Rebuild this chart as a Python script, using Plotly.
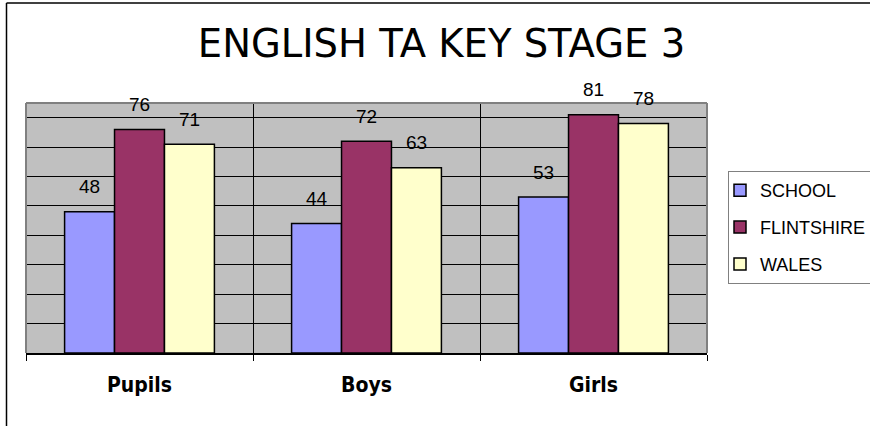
import plotly.graph_objects as go

categories = ["Pupils", "Boys", "Girls"]
series_names = ["SCHOOL", "FLINTSHIRE", "WALES"]
school = [48, 44, 53]
flintshire = [76, 72, 81]
wales = [71, 63, 78]
series_values = [school, flintshire, wales]
colors = ["#9999FF", "#993366", "#FFFFCC"]
title_text = "ENGLISH TA KEY STAGE 3"

W, H = 870, 426
ml, mr, mt, mb = 26, 163, 103, 73
pw = W - ml - mr
ph = H - mt - mb
bargap = 0.34

fig = go.Figure()
for name, vals, col in zip(series_names, series_values, colors):
    fig.add_trace(go.Bar(
        name=name, x=categories, y=vals, legendgroup=name,
        marker=dict(color=col, line=dict(color="black", width=1.5)),
    ))

annotations = []
n = len(series_names)
bw = (1 - bargap) / n
for si, vals in enumerate(series_values):
    for ci, v in enumerate(vals):
        annotations.append(dict(
            x=ci + (si - (n - 1) / 2) * bw, y=v, xref="x", yref="y",
            text=str(v), showarrow=False, yanchor="middle", yshift=25,
            font=dict(family="Liberation Sans, Arial", size=19, color="black"),
        ))

def px_x(p):
    return (p - ml) / pw

def px_y(p):
    return (H - mb - p) / ph

grey = "#808080"
shapes = [
    # plot area border (top, left, right)
    dict(type="line", xref="paper", yref="paper", x0=0, x1=1, y0=1, y1=1, line=dict(color=grey, width=2)),
    dict(type="line", xref="paper", yref="paper", x0=0, x1=0, y0=0, y1=1, line=dict(color=grey, width=2)),
    dict(type="line", xref="paper", yref="paper", x0=1, x1=1, y0=0, y1=1, line=dict(color=grey, width=2)),
    # outer frame
    dict(type="line", xref="paper", yref="paper", x0=px_x(6.5), x1=px_x(6.5), y0=px_y(3), y1=px_y(430), line=dict(color="black", width=1.5)),
    dict(type="line", xref="paper", yref="paper", x0=px_x(6.5), x1=px_x(875), y0=px_y(3), y1=px_y(3), line=dict(color="black", width=1.5)),
]

fig.update_layout(
    width=W, height=H,
    margin=dict(l=ml, r=mr, t=mt, b=mb, autoexpand=False),
    paper_bgcolor="white", plot_bgcolor="#C0C0C0",
    barmode="group", bargap=bargap, bargroupgap=0,
    title=dict(text=title_text, xref="container", x=441.5 / W, xanchor="center",
               yref="container", y=1 - 44 / H, yanchor="middle",
               font=dict(family="DejaVu Sans", size=38.5, color="black")),
    showlegend=True,
    legend=dict(x=px_x(728), xanchor="left", y=px_y(171), yanchor="top",
                bgcolor="white", bordercolor=grey, borderwidth=1,
                font=dict(family="Liberation Sans, Arial", size=18, color="black"),
                tracegroupgap=10.5, indentation=-9, traceorder="grouped"),
    annotations=annotations,
    shapes=shapes,
)
fig.update_xaxes(
    type="category", tickson="boundaries", ticks="outside", ticklen=6, tickcolor="black",
    showgrid=True, gridcolor="black", gridwidth=1,
    showline=True, linecolor="black", linewidth=1.5,
    tickfont=dict(family="DejaVu Sans Condensed, DejaVu Sans", size=21, color="black", weight="bold"),
    ticklabelstandoff=12,
)
fig.update_yaxes(
    range=[0, 85], dtick=10, showticklabels=False, ticks="",
    showgrid=True, gridcolor="black", gridwidth=1, zeroline=False, showline=False,
)

fig.write_html("out.html", config={"displayModeBar": False},
               post_script="document.body.style.margin='0px';document.body.style.overflow='hidden';")
